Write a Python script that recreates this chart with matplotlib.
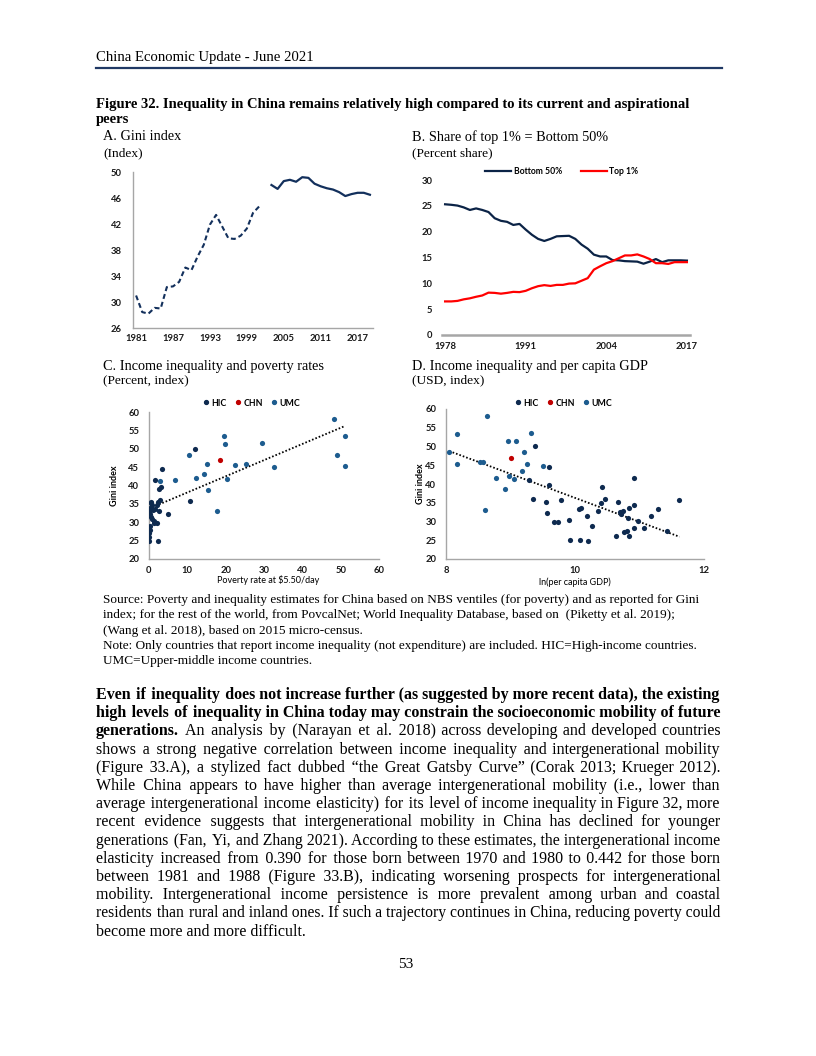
import numpy as np
import matplotlib
matplotlib.use('Agg')
import matplotlib.pyplot as plt
from matplotlib.lines import Line2D

W, H = 816, 1056
SERIF = ['Liberation Serif', 'DejaVu Serif']
SANS = 'Lato'
NAVY = '#13305C'
HIC_C = '#0E2A4F'
UMC_C = '#1D5C8F'
CHN_C = '#C00000'
GRAY = '#A6A6A6'
nan = np.nan

# ---- A. Gini index (China) ----
gini_years = list(range(1981, 2020))
gini_early = [31.0, 28.45, 28.2, 29.1, 29.0, 32.3, 32.4, 33.1, 35.3, 34.9, 37.0, 38.8, 41.9, 43.4,
              41.6, 39.8, 39.7, 40.2, 41.3, 43.7, 44.7] + [nan] * 18
gini_late = [nan] * 22 + [48.0, 47.4, 48.6, 48.8, 48.5, 49.2, 49.1, 48.2, 47.8, 47.5, 47.3, 46.9,
                          46.3, 46.6, 46.8, 46.8, 46.5]

# ---- B. Share of top 1% vs bottom 50% ----
share_years = list(range(1978, 2018))
bottom50 = [25.3, 25.2, 25.05, 24.7, 24.2, 24.5, 24.2, 23.8, 22.6, 22.1, 21.9, 21.3, 21.5, 20.4,
            19.4, 18.6, 18.2, 18.6, 19.1, 19.15, 19.2, 18.6, 17.5, 16.7, 15.55, 15.2, 15.2, 14.5,
            14.45, 14.3, 14.25, 14.2, 13.8, 14.2, 14.7, 14.1, 14.45, 14.45, 14.45, 14.4]
top1 = [6.5, 6.5, 6.6, 6.9, 7.1, 7.4, 7.65, 8.2, 8.15, 8.0, 8.15, 8.35, 8.3, 8.55, 9.05, 9.45,
        9.65, 9.5, 9.7, 9.7, 9.95, 10.0, 10.5, 11.0, 12.65, 13.3, 13.9, 14.3, 14.85, 15.4, 15.4,
        15.6, 15.2, 14.7, 13.9, 13.9, 13.75, 14.1, 14.1, 14.1]

# ---- C. Gini vs poverty rate ----
c_hic_pov = [3.4, 1.65, 2.7, 3.0, 0.5, 0.8, 0.2, 2.35, 2.2, 2.95, 0.0, 0.2, 0.4, 0.9, 1.4, 2.2,
             1.0, 1.6, 2.7, 5.0, 0.0, 0.2, 0.0, 0.0, 0.0, 2.3, 10.8, 12.0, 0.6, 1.2, 0.3, 0.1]
c_hic_gini = [44.5, 41.5, 39.0, 39.7, 35.4, 34.8, 34.0, 35.4, 34.7, 36.0, 33.1, 32.2, 31.5, 30.8,
              29.9, 29.7, 33.3, 33.5, 33.0, 32.2, 28.7, 27.8, 27.1, 26.0, 24.8, 25.0, 35.9, 49.9,
              35.3, 30.3, 29.0, 32.8]
c_umc_pov = [10.4, 19.6, 19.8, 29.4, 15.2, 25.3, 22.5, 32.6, 14.3, 12.3, 6.9, 2.8, 20.4, 15.5,
             17.8, 48.3, 51.1, 49.1, 51.0]
c_umc_gini = [48.3, 53.6, 51.4, 51.5, 45.8, 45.9, 45.5, 44.9, 43.1, 42.0, 41.4, 41.2, 41.7, 38.7,
              33.0, 58.1, 53.4, 48.4, 45.3]
c_chn = (18.4, 47.0)
c_trend = (0.44, 33.7)   # slope, intercept of the dotted fit

# ---- D. Gini vs ln(per capita GDP) ----
d_umc_gdp = [8.05, 8.17, 8.17, 8.64, 8.53, 8.57, 8.60, 8.78, 8.92, 8.96, 9.08, 8.98, 9.06, 9.18,
             9.21, 9.25, 9.32, 9.50]
d_umc_gini = [48.4, 53.3, 45.2, 58.0, 45.9, 45.8, 33.1, 41.6, 38.6, 51.5, 51.4, 42.0, 41.4, 43.5,
              48.4, 45.4, 53.5, 44.9]
d_hic_gdp = [9.29, 9.38, 9.60, 9.59, 9.35, 9.55, 9.78, 9.57, 9.67, 9.73, 9.90, 9.93, 10.07, 10.20,
             10.06, 10.09, 10.19, 10.26, 10.35, 10.40, 10.42, 10.47, 10.63, 10.67, 10.69, 10.72,
             10.74, 10.76, 10.80, 10.83, 10.82, 10.84, 10.91, 10.91, 10.91, 10.97, 11.07, 11.18,
             11.28, 11.43, 11.62]
d_hic_gini = [41.1, 50.0, 44.5, 39.7, 35.9, 35.2, 35.8, 32.3, 29.9, 29.8, 30.5, 25.1, 25.2, 24.8,
              33.2, 33.6, 31.6, 28.8, 32.9, 34.8, 39.1, 36.0, 26.1, 35.3, 32.6, 32.0, 32.9, 27.3,
              27.5, 26.2, 31.0, 33.5, 34.5, 41.5, 28.3, 30.1, 28.3, 31.5, 33.3, 27.6, 35.6]
d_chn = (9.01, 46.9)
d_trend = (-6.4, 100.3)

header = 'China Economic Update - June 2021'
fig_title = ['Figure 32. Inequality in China remains relatively high compared to its current and aspirational',
             'peers']
panel_titles = ['A. Gini index', 'B. Share of top 1% = Bottom 50%',
                'C. Income inequality and poverty rates', 'D. Income inequality and per capita GDP']
panel_units = ['(Index)', '(Percent share)', '(Percent, index)', '(USD, index)']
notes = ['Source: Poverty and inequality estimates for China based on NBS ventiles (for poverty) and as reported for Gini',
         'index; for the rest of the world, from PovcalNet; World Inequality Database, based on  (Piketty et al. 2019);',
         '(Wang et al. 2018), based on 2015 micro-census.',
         'Note: Only countries that report income inequality (not expenditure) are included. HIC=High-income countries.',
         'UMC=Upper-middle income countries.']
body = ['Even if inequality does not increase further (as suggested by more recent data), the existing',
        'high levels of inequality in China today may constrain the socioeconomic mobility of future',
        'generations. An analysis by (Narayan et al. 2018) across developing and developed countries',
        'shows a strong negative correlation between income inequality and intergenerational mobility',
        '(Figure 33.A), a stylized fact dubbed \u201cthe Great Gatsby Curve\u201d (Corak 2013; Krueger 2012).',
        'While China appears to have higher than average intergenerational mobility (i.e., lower than',
        'average intergenerational income elasticity) for its level of income inequality in Figure 32, more',
        'recent evidence suggests that intergenerational mobility in China has declined for younger',
        'generations (Fan, Yi, and Zhang 2021). According to these estimates, the intergenerational income',
        'elasticity increased from 0.390 for those born between 1970 and 1980 to 0.442 for those born',
        'between 1981 and 1988 (Figure 33.B), indicating worsening prospects for intergenerational',
        'mobility. Intergenerational income persistence is more prevalent among urban and coastal',
        'residents than rural and inland ones. If such a trajectory continues in China, reducing poverty could',
        'become more and more difficult.']
body_bold = [99, 99, 1] + [0] * 11

plt.rcParams['font.family'] = [SANS, 'DejaVu Sans']
fig = plt.figure(figsize=(W / 100, H / 100), dpi=100)
r = fig.canvas.get_renderer()


def rect(x0, y0, x1, y1):
    return [x0 / W, 1 - y1 / H, (x1 - x0) / W, (y1 - y0) / H]


def put(x, y, s, **kw):
    kw.setdefault('family', SERIF)
    kw.setdefault('va', 'center')
    return fig.text(x / W, 1 - y / H, s, **kw)


def width(s, size, weight='normal'):
    t = fig.text(0, 0, s, fontsize=size, weight=weight, family=SERIF)
    w = t.get_window_extent(r).width
    t.remove()
    return w


def fit(s, wpx, weight='normal'):
    return 10 * wpx / width(s, 10, weight)


def justify(s, x0, x1, y, size, weight='normal'):
    # one text per line; extra room is spread as hair spaces between words
    words = s.split(' ')
    w0 = width(s, size, weight)
    if w0 > x1 - x0:
        size *= (x1 - x0) / w0 * 0.995
        w0 = width(s, size, weight)
    sp = '\u200a'
    h = width('a' + sp + 'b', size, weight) - width('ab', size, weight)
    if h < 0.4:
        sp = '\u2009'
        h = width('a' + sp + 'b', size, weight) - width('ab', size, weight)
    gaps = len(words) - 1
    n = max(0, int(round((x1 - x0 - w0) / h))) if h > 0.4 else 0
    out = words[0]
    for i, wd in enumerate(words[1:]):
        k = n // gaps + (1 if i < n % gaps else 0)
        out += ' ' + sp * k + wd
    return put(x0, y, out, fontsize=size, weight=weight, va='baseline')


def bold_ticks(ax):
    for lab in ax.get_xticklabels() + ax.get_yticklabels():
        lab.set_fontweight('bold')


def style(ax, left=True, bottom_lw=1.0):
    for s in ['top', 'right']:
        ax.spines[s].set_visible(False)
    ax.spines['left'].set_visible(left)
    ax.spines['left'].set_color(GRAY)
    ax.spines['bottom'].set_color(GRAY)
    ax.spines['left'].set_linewidth(1.0)
    ax.spines['bottom'].set_linewidth(bottom_lw)
    ax.tick_params(length=0, labelsize=6.8, colors='#1a1a1a')
    ax.patch.set_alpha(0)


# ---- page text ----
put(96, 57, header, fontsize=fit(header, 217))
fig.add_artist(Line2D([96 / W, 722 / W], [1 - 67.5 / H] * 2, color='#1F3864', lw=1.6))
ts = fit(fig_title[0], 594, weight='bold')
put(96, 105, fig_title[0], fontsize=ts, weight='bold')
put(96, 119, fig_title[1], fontsize=ts, weight='bold')

pts = fit(panel_titles[2], 222)
us = fit(panel_units[1], 81)
for (x, y), t, u in zip([(103, 137), (412, 137), (103, 366), (412, 366)], panel_titles, panel_units):
    put(x, y, t, fontsize=pts)
    put(x, y + 16 if y < 300 else y + 14, u, fontsize=us)

ns = fit(notes[0], 597)
for i, s in enumerate(notes):
    put(103, 600 + 15.3 * i, s, fontsize=ns)

BS = 11.5
for i, (s, nb) in enumerate(zip(body, body_bold)):
    y = 695 + 18.2 * i + 4
    if i == len(body) - 1:
        put(96, y, s, fontsize=BS, va='baseline')
    elif nb >= 99:
        justify(s, 96, 720, y, BS, 'bold')
    elif nb > 0:
        words = s.split(' ')
        head = ' '.join(words[:nb])
        put(96, y, head, fontsize=BS, weight='bold', va='baseline')
        x_rest = 96 + width(head + ' ', BS, 'bold') + 2
        justify(' '.join(words[nb:]), x_rest, 720, y, BS)
    else:
        justify(s, 96, 720, y, BS)

put(406, 965, '53', fontsize=11, ha='center')

# ---- panel A ----
axA = fig.add_axes(rect(133, 172, 373, 328))
xa = np.arange(len(gini_years))
axA.plot(xa, gini_early, color=NAVY, lw=1.5, dashes=(2.4, 1.5))
axA.plot(xa, gini_late, color=NAVY, lw=1.6)
axA.set_xlim(-0.5, len(xa) - 0.5)
axA.set_ylim(26, 50)
axA.set_yticks(range(26, 51, 4))
axA.set_xticks(xa[::6], [str(gini_years[i]) for i in xa[::6]])
style(axA)
axA.tick_params(axis='y', pad=8)
axA.tick_params(axis='x', pad=4)
bold_ticks(axA)

# ---- panel B ----
axB = fig.add_axes(rect(442, 180, 690, 335))
xb = np.arange(len(share_years))
axB.plot(xb, bottom50, color='#0B2346', lw=1.6, label='Bottom 50%')
axB.plot(xb, top1, color='#FF0000', lw=1.6, label='Top 1%')
axB.set_xlim(-0.5, len(xb) - 0.5)
axB.set_ylim(0, 30)
axB.set_yticks(range(0, 31, 5))
axB.set_xticks(xb[::13], [str(share_years[i]) for i in xb[::13]])
style(axB, left=False, bottom_lw=1.8)
axB.tick_params(axis='y', pad=7)
axB.tick_params(axis='x', pad=5)
bold_ticks(axB)
axB.legend(loc='center', bbox_to_anchor=(562 / W, 1 - 172 / H), bbox_transform=fig.transFigure,
           ncol=2, frameon=False, handlelength=3.0, handletextpad=0.3,
           columnspacing=2.2, prop={'weight': 'bold', 'size': 6.2})


# ---- scatter panels ----
def scatter_panel(ax, hx, hy, ux, uy, chn, trend, xlab, xl, xt, ylab_x, leg_x):
    ax.scatter(hx, hy, s=14, color=HIC_C, zorder=3, linewidths=0)
    ax.scatter(ux, uy, s=14, color=UMC_C, zorder=3, linewidths=0)
    ax.scatter([chn[0]], [chn[1]], s=14, color=CHN_C, zorder=3, linewidths=0)
    allx = np.array(list(hx) + list(ux) + [chn[0]])
    tx = np.array([allx.min(), allx.max()])
    ax.plot(tx, trend[0] * tx + trend[1], color='black', lw=1.3, linestyle=(0, (0.9, 1.1)), zorder=2)
    ax.set_xlim(*xl)
    ax.set_xticks(xt)
    ax.set_ylim(20, 60)
    ax.set_yticks(range(20, 61, 5))
    style(ax)
    ax.tick_params(axis='y', pad=7)
    ax.tick_params(axis='x', pad=5)
    bold_ticks(ax)
    ax.set_xlabel(xlab, fontsize=6.5, va='center')
    ax.set_ylabel('Gini index', fontsize=6.5, va='center', weight='bold')
    ax.yaxis.set_label_coords(ylab_x, 0.5)
    hs = [Line2D([], [], marker='o', ls='', ms=2.8, color=c) for c in (HIC_C, CHN_C, UMC_C)]
    ax.legend(hs, ['HIC', 'CHN', 'UMC'], loc='center', bbox_to_anchor=(leg_x / W, 1 - 403 / H),
              bbox_transform=fig.transFigure, ncol=3, frameon=False, handlelength=0.6,
              handletextpad=0.3, columnspacing=1.0, prop={'weight': 'bold', 'size': 6.3})


axC = fig.add_axes(rect(149, 412, 379, 559))
scatter_panel(axC, c_hic_pov, c_hic_gini, c_umc_pov, c_umc_gini, c_chn, c_trend,
              'Poverty rate at \\$5.50/day', (0, 60), range(0, 61, 10), -0.148, 252)
axC.xaxis.set_label_coords(0.52, -0.145)

axD = fig.add_axes(rect(446, 409, 704, 559))
scatter_panel(axD, d_hic_gdp, d_hic_gini, d_umc_gdp, d_umc_gini, d_chn, d_trend,
              'ln(per capita GDP)', (8, 12), [8, 10, 12], -0.10, 564)
axD.xaxis.set_label_coords(0.5, -0.155)

fig.savefig('out.png', dpi=100)
